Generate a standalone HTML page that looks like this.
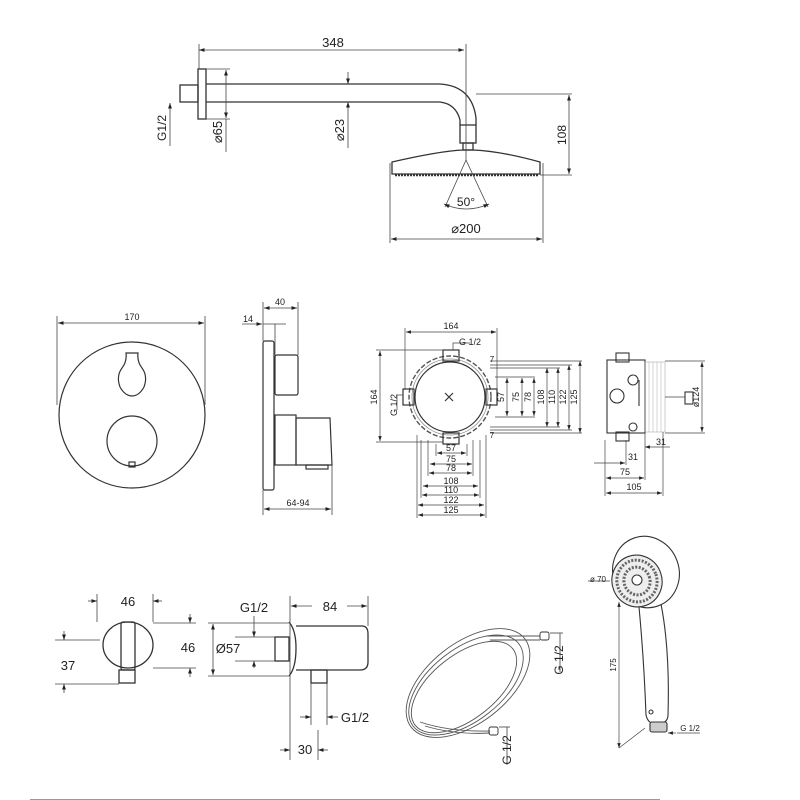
<!DOCTYPE html>
<html><head><meta charset="utf-8"><style>
html,body{margin:0;padding:0;background:#fff}
svg{display:block}
text{font-family:"Liberation Sans",sans-serif;fill:#222}
</style></head><body>
<svg width="800" height="800" viewBox="0 0 800 800" xmlns="http://www.w3.org/2000/svg">
<defs>
<marker id="a" viewBox="0 0 10 10" refX="10" refY="5" markerWidth="7" markerHeight="7" orient="auto-start-reverse"><path d="M0,1.5 L10,5 L0,8.5z" fill="#222"/></marker>
</defs>
<g fill="none" stroke="#333" stroke-width="1.3">
<rect x="180" y="85" width="18" height="17"/>
<rect x="198" y="69" width="8" height="50"/>
<path d="M206 84 H440 Q472 86 476 118 V125 M206 102 H440 Q456 104 460 120 V125"/>
<rect x="460" y="125" width="16" height="18"/>
<rect x="463" y="143" width="10" height="7"/>
<path d="M392 162 Q440 151 463 150 H473 Q500 151 540 162 V174 H392 Z"/>
<path d="M395 175 H538" stroke-width="2.5" stroke-dasharray="2 1"/>
</g>
<g fill="none" stroke="#444" stroke-width="0.8">
<line x1="199" y1="50" x2="464" y2="50" marker-start="url(#a)" marker-end="url(#a)"/>
<line x1="199" y1="44" x2="199" y2="69"/><line x1="466" y1="44" x2="466" y2="160"/>
<line x1="206" y1="69" x2="230" y2="69"/><line x1="206" y1="119" x2="230" y2="119"/>
<line x1="226" y1="70" x2="226" y2="118" marker-start="url(#a)" marker-end="url(#a)"/>
<line x1="226" y1="119" x2="226" y2="152"/>
<line x1="348" y1="72" x2="348" y2="84" marker-end="url(#a)"/>
<line x1="348" y1="114" x2="348" y2="102" marker-end="url(#a)"/>
<line x1="348" y1="114" x2="348" y2="148"/>
<line x1="170" y1="146" x2="170" y2="103" marker-end="url(#a)"/>
<line x1="476" y1="94" x2="572" y2="94"/><line x1="540" y1="175" x2="572" y2="175"/>
<line x1="569" y1="95" x2="569" y2="174" marker-start="url(#a)" marker-end="url(#a)"/>
<line x1="466" y1="160" x2="445" y2="207"/><line x1="466" y1="160" x2="488" y2="207"/>
<path d="M444 204 Q466 214 489 204" marker-start="url(#a)" marker-end="url(#a)"/>
<line x1="390" y1="163" x2="390" y2="243"/><line x1="543" y1="163" x2="543" y2="243"/>
<line x1="391" y1="239" x2="542" y2="239" marker-start="url(#a)" marker-end="url(#a)"/>
</g>
<text x="333" y="47" font-size="13" text-anchor="middle">348</text>
<text x="466" y="206" font-size="12" text-anchor="middle">50°</text>
<text x="466" y="233" font-size="13" text-anchor="middle">⌀200</text>
<text transform="translate(222,132) rotate(-90)" font-size="13" text-anchor="middle">⌀65</text>
<text transform="translate(344,130) rotate(-90)" font-size="13" text-anchor="middle">⌀23</text>
<text transform="translate(166,128) rotate(-90)" font-size="12" text-anchor="middle">G1/2</text>
<text transform="translate(566,135) rotate(-90)" font-size="12" text-anchor="middle">108</text>

<g fill="none" stroke="#333" stroke-width="1.2">
<circle cx="132" cy="415" r="73"/>
<path d="M126 353 H138 Q137 362 142 368 Q148 376 144 387 Q139 396 132 396 Q125 396 120 387 Q116 376 122 368 Q127 362 126 353Z"/>
<circle cx="132" cy="441" r="25"/>
<rect x="129" y="462" width="6" height="5"/>
<rect x="263" y="341" width="11" height="149" rx="2"/>
<rect x="275" y="355" width="23" height="40" rx="2"/>
<rect x="275" y="415" width="21" height="50"/>
<path d="M296 418 H330 L332 465 H296 Z"/>
<rect x="306" y="465" width="22" height="4"/>
</g>
<g fill="none" stroke="#444" stroke-width="0.8">
<line x1="57" y1="316" x2="57" y2="405"/><line x1="205" y1="316" x2="205" y2="405"/>
<line x1="58" y1="323" x2="204" y2="323" marker-start="url(#a)" marker-end="url(#a)"/>
<line x1="263" y1="302" x2="263" y2="341"/><line x1="298" y1="302" x2="298" y2="355"/>
<line x1="264" y1="308" x2="297" y2="308" marker-start="url(#a)" marker-end="url(#a)"/>
<line x1="242" y1="324" x2="262" y2="324" marker-end="url(#a)"/><line x1="263" y1="324" x2="286" y2="324"/>
<line x1="275" y1="324" x2="275" y2="355"/>
<line x1="263" y1="490" x2="263" y2="515"/><line x1="332" y1="465" x2="332" y2="515"/>
<line x1="264" y1="509" x2="331" y2="509" marker-start="url(#a)" marker-end="url(#a)"/>
</g>
<text x="132" y="320" font-size="9" text-anchor="middle">170</text>
<text x="280" y="305" font-size="9" text-anchor="middle">40</text>
<text x="248" y="322" font-size="9" text-anchor="middle">14</text>
<text x="298" y="506" font-size="9" text-anchor="middle">64-94</text>

<g fill="none" stroke="#333" stroke-width="1.2">
<circle cx="450" cy="397" r="41" stroke-dasharray="5 2" stroke-width="1.4" stroke="#555"/>
<circle cx="450" cy="397" r="38" stroke="#888" stroke-width="0.8"/>
<circle cx="450" cy="397" r="35"/>
<rect x="443" y="350" width="16" height="11"/>
<rect x="443" y="433" width="16" height="11"/>
<rect x="403" y="389" width="11" height="16"/>
<rect x="486" y="389" width="11" height="16"/>
<path d="M445 393 L453 401 M453 393 L445 401"/>
</g>
<g fill="none" stroke="#444" stroke-width="0.7">
<line x1="405" y1="328" x2="405" y2="390"/><line x1="497" y1="328" x2="497" y2="390"/>
<line x1="406" y1="332" x2="496" y2="332" marker-start="url(#a)" marker-end="url(#a)"/>
<path d="M453 350 V343 H470"/>
<line x1="376" y1="350" x2="443" y2="350"/><line x1="376" y1="442" x2="443" y2="442"/>
<line x1="380" y1="351" x2="380" y2="441" marker-start="url(#a)" marker-end="url(#a)"/>
<path d="M403 395 H397 V410"/>
<line x1="490" y1="361" x2="582" y2="361"/><line x1="490" y1="365" x2="572" y2="365"/>
<line x1="490" y1="368" x2="560" y2="368"/><line x1="495" y1="377" x2="535" y2="377"/>
<line x1="495" y1="417" x2="535" y2="417"/><line x1="490" y1="427" x2="560" y2="427"/>
<line x1="490" y1="430" x2="572" y2="430"/><line x1="490" y1="433" x2="582" y2="433"/>
<line x1="507" y1="378" x2="507" y2="416" marker-start="url(#a)" marker-end="url(#a)"/>
<line x1="522" y1="378" x2="522" y2="416" marker-start="url(#a)" marker-end="url(#a)"/>
<line x1="534" y1="378" x2="534" y2="416" marker-start="url(#a)" marker-end="url(#a)"/>
<line x1="547" y1="368" x2="547" y2="427" marker-start="url(#a)" marker-end="url(#a)"/>
<line x1="558" y1="368" x2="558" y2="427" marker-start="url(#a)" marker-end="url(#a)"/>
<line x1="569" y1="365" x2="569" y2="430" marker-start="url(#a)" marker-end="url(#a)"/>
<line x1="580" y1="361" x2="580" y2="433" marker-start="url(#a)" marker-end="url(#a)"/>
<line x1="417" y1="435" x2="417" y2="518"/><line x1="486" y1="435" x2="486" y2="518"/>
<line x1="421" y1="440" x2="421" y2="498"/><line x1="480" y1="440" x2="480" y2="498"/>
<line x1="428" y1="440" x2="428" y2="476"/><line x1="473" y1="440" x2="473" y2="476"/>
<line x1="436" y1="444" x2="436" y2="456"/><line x1="467" y1="444" x2="467" y2="456"/>
<line x1="437" y1="453" x2="466" y2="453" marker-start="url(#a)" marker-end="url(#a)"/>
<line x1="430" y1="464" x2="472" y2="464" marker-start="url(#a)" marker-end="url(#a)"/>
<line x1="429" y1="473" x2="472" y2="473" marker-start="url(#a)" marker-end="url(#a)"/>
<line x1="423" y1="486" x2="478" y2="486" marker-start="url(#a)" marker-end="url(#a)"/>
<line x1="422" y1="495" x2="479" y2="495" marker-start="url(#a)" marker-end="url(#a)"/>
<line x1="418" y1="505" x2="484" y2="505" marker-start="url(#a)" marker-end="url(#a)"/>
<line x1="418" y1="515" x2="485" y2="515" marker-start="url(#a)" marker-end="url(#a)"/>
</g>
<g font-size="9" text-anchor="middle">
<text x="451" y="329">164</text><text x="470" y="345">G 1/2</text>
<text x="451" y="451">57</text><text x="451" y="462">75</text><text x="451" y="471">78</text>
<text x="451" y="484">108</text><text x="451" y="493">110</text><text x="451" y="503">122</text><text x="451" y="513">125</text>
<text transform="translate(377,397) rotate(-90)">164</text>
<text transform="translate(397,405) rotate(-90)">G 1/2</text>
<text transform="translate(504,397) rotate(-90)">57</text>
<text transform="translate(519,397) rotate(-90)">75</text>
<text transform="translate(531,397) rotate(-90)">78</text>
<text transform="translate(544,397) rotate(-90)">108</text>
<text transform="translate(555,397) rotate(-90)">110</text>
<text transform="translate(566,397) rotate(-90)">122</text>
<text transform="translate(577,397) rotate(-90)">125</text>
<text x="492" y="362" font-size="8">7</text>
<text x="492" y="438" font-size="8">7</text>
</g>

<g fill="none" stroke="#333" stroke-width="1.1">
<rect x="607" y="360" width="38" height="73"/>
<rect x="616" y="353" width="13" height="9"/>
<rect x="616" y="432" width="13" height="9"/>
<circle cx="617" cy="396" r="7"/>
<circle cx="633" cy="380" r="5"/>
<circle cx="633" cy="427" r="4"/>
<line x1="639" y1="380" x2="639" y2="406"/>
<rect x="645" y="362" width="20" height="70" stroke="#999" stroke-width="0.5"/>
<rect x="685" y="392" width="8" height="12"/>
</g>
<g stroke="#aaa" stroke-width="0.5">
<line x1="649" y1="362" x2="649" y2="432"/><line x1="653" y1="362" x2="653" y2="432"/>
<line x1="657" y1="362" x2="657" y2="432"/><line x1="661" y1="362" x2="661" y2="432"/>
</g>
<g fill="none" stroke="#444" stroke-width="0.7">
<line x1="665" y1="397" x2="685" y2="397"/>
<line x1="665" y1="361" x2="705" y2="361"/><line x1="665" y1="433" x2="705" y2="433"/>
<line x1="702" y1="362" x2="702" y2="432" marker-start="url(#a)" marker-end="url(#a)"/>
<line x1="605" y1="440" x2="605" y2="496"/><line x1="645" y1="433" x2="645" y2="480"/>
<line x1="663" y1="432" x2="663" y2="496"/><line x1="626" y1="440" x2="626" y2="465"/>
<line x1="645" y1="447" x2="662" y2="447" marker-start="url(#a)"/><line x1="662" y1="447" x2="670" y2="447"/>
<line x1="594" y1="463" x2="625" y2="463" marker-end="url(#a)"/>
<line x1="606" y1="478" x2="644" y2="478" marker-start="url(#a)" marker-end="url(#a)"/>
<line x1="606" y1="493" x2="662" y2="493" marker-start="url(#a)" marker-end="url(#a)"/>
</g>
<g font-size="9" text-anchor="middle">
<text x="661" y="445">31</text><text x="633" y="460">31</text><text x="625" y="475">75</text><text x="634" y="490">105</text>
<text transform="translate(699,397) rotate(-90)">ø124</text>
</g>

<g fill="none" stroke="#333" stroke-width="1.3">
<ellipse cx="128" cy="645" rx="25" ry="23"/>
<rect x="121" y="622" width="14" height="48" rx="2"/>
<rect x="119" y="670" width="16" height="13"/>
<rect x="275" y="637" width="14" height="24"/>
<path d="M289 622 Q296 630 296 648 Q296 668 289 676"/>
<path d="M296 626 H362 Q368 626 368 634 V662 Q368 670 360 670 H296"/>
<rect x="311" y="670" width="16" height="13"/>
</g>
<g fill="none" stroke="#444" stroke-width="0.8">
<line x1="97" y1="594" x2="97" y2="622"/><line x1="153" y1="594" x2="153" y2="622"/>
<line x1="88" y1="601" x2="97" y2="601" marker-end="url(#a)"/><line x1="162" y1="601" x2="153" y2="601" marker-end="url(#a)"/>
<line x1="153" y1="623" x2="196" y2="623"/><line x1="153" y1="668" x2="196" y2="668"/>
<line x1="190" y1="614" x2="190" y2="623" marker-end="url(#a)"/><line x1="190" y1="677" x2="190" y2="668" marker-end="url(#a)"/>
<line x1="55" y1="640" x2="100" y2="640"/><line x1="55" y1="684" x2="119" y2="684"/>
<line x1="64" y1="631" x2="64" y2="640" marker-end="url(#a)"/><line x1="64" y1="693" x2="64" y2="684" marker-end="url(#a)"/>
<line x1="208" y1="623" x2="289" y2="623"/><line x1="208" y1="676" x2="289" y2="676"/>
<line x1="213" y1="624" x2="213" y2="675" marker-start="url(#a)" marker-end="url(#a)"/>
<line x1="235" y1="637" x2="275" y2="637"/><line x1="235" y1="661" x2="275" y2="661"/>
<line x1="254" y1="616" x2="254" y2="637" marker-end="url(#a)"/><line x1="254" y1="668" x2="254" y2="661" marker-end="url(#a)"/>
<line x1="290" y1="596" x2="290" y2="760"/><line x1="368" y1="596" x2="368" y2="626"/>
<line x1="291" y1="606" x2="312" y2="606" marker-start="url(#a)"/><line x1="347" y1="606" x2="367" y2="606" marker-end="url(#a)"/>
<line x1="311" y1="683" x2="311" y2="725"/><line x1="327" y1="683" x2="327" y2="725"/>
<line x1="300" y1="717" x2="311" y2="717" marker-end="url(#a)"/><line x1="338" y1="717" x2="327" y2="717" marker-end="url(#a)"/>
<line x1="318" y1="730" x2="318" y2="760"/>
<line x1="280" y1="750" x2="290" y2="750" marker-end="url(#a)"/><line x1="328" y1="750" x2="318" y2="750" marker-end="url(#a)"/>
</g>
<g font-size="13" text-anchor="middle">
<text x="128" y="606">46</text><text x="188" y="652">46</text><text x="68" y="670">37</text>
<text x="254" y="612">G1/2</text><text x="330" y="611">84</text><text x="228" y="653">Ø57</text>
<text x="355" y="722">G1/2</text><text x="305" y="754">30</text>
</g>

<g fill="none" stroke="#555" stroke-width="0.9">
<ellipse cx="468" cy="683" rx="72" ry="40" transform="rotate(-38 468 683)"/>
<ellipse cx="466" cy="685" rx="67" ry="36" transform="rotate(-38 466 685)"/>
<ellipse cx="464" cy="687" rx="62" ry="32" transform="rotate(-38 464 687)"/>
<path d="M486 636 H540 M490 640 H540"/>
<path d="M420 722 Q450 732 490 731 M425 726 Q455 735 490 733"/>
<rect x="540" y="632" width="9" height="8" rx="2" stroke="#333"/>
<rect x="489" y="727" width="9" height="8" rx="2" stroke="#333"/>
<line x1="550" y1="633" x2="563" y2="633"/><line x1="560" y1="633" x2="560" y2="672"/>
<line x1="499" y1="727" x2="510" y2="727"/><line x1="507" y1="727" x2="507" y2="765"/>
</g>
<text transform="translate(563,660) rotate(-90)" font-size="12" text-anchor="middle">G 1/2</text>
<text transform="translate(511,750) rotate(-90)" font-size="12" text-anchor="middle">G 1/2</text>

<g fill="none" stroke="#333" stroke-width="1.1">
<ellipse cx="646" cy="572" rx="33" ry="36" transform="rotate(-20 646 572)"/>
<ellipse cx="637" cy="581" rx="25" ry="26" transform="rotate(-20 637 581)" fill="#eee"/>
<ellipse cx="637" cy="581" rx="20" ry="21" transform="rotate(-20 637 581)" stroke="#666" stroke-width="3" stroke-dasharray="2 1.5"/>
<ellipse cx="637" cy="581" rx="13" ry="14" transform="rotate(-20 637 581)" stroke="#666" stroke-width="3" stroke-dasharray="2 1.5"/>
<circle cx="637" cy="580" r="5" fill="#fff"/>
<path d="M639 607 Q644 660 646 715 Q648 724 656 724 Q668 724 668 715 Q670 650 661 604"/>
<circle cx="651" cy="712" r="2"/>
<rect x="650" y="722" width="17" height="10" rx="2" fill="#ccc"/>
</g>
<g fill="none" stroke="#444" stroke-width="0.7">
<line x1="619" y1="602" x2="619" y2="748" marker-start="url(#a)" marker-end="url(#a)"/>
<line x1="619" y1="748" x2="645" y2="728"/>
<line x1="588" y1="581" x2="610" y2="581"/>
<line x1="676" y1="733" x2="668" y2="733" marker-end="url(#a)"/><line x1="677" y1="733" x2="700" y2="733"/>
</g>
<text x="598" y="582" font-size="8" text-anchor="middle">ø 70</text>
<text transform="translate(616,665) rotate(-90)" font-size="8" text-anchor="middle">175</text>
<text x="690" y="731" font-size="8" text-anchor="middle">G 1/2</text>

<line x1="30" y1="800" x2="660" y2="800" stroke="#999" stroke-width="2"/>
</svg>
</body></html>
